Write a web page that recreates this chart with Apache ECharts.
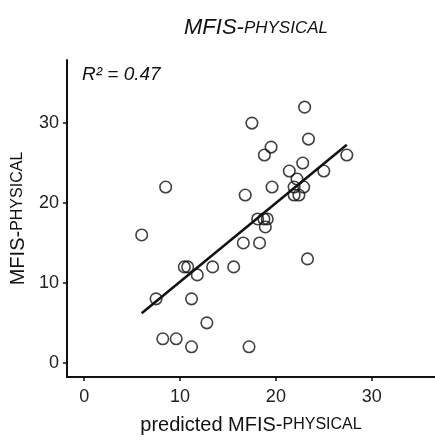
<!DOCTYPE html>
<html>
<head>
<meta charset="utf-8">
<script src="https://cdn.jsdelivr.net/npm/echarts@6/dist/echarts.min.js"></script>
<style>
html,body{margin:0;padding:0;background:#fff;}
#chart{width:435px;height:440px;}
</style>
</head>
<body>
<div id="chart"></div>
<script>
var predicted = [23.0, 17.5, 23.4, 19.5, 18.8, 27.4, 22.8, 21.4, 25.0, 22.2, 8.5, 19.6, 21.9, 22.9, 16.8, 21.9, 22.4, 18.1, 18.75, 19.1, 18.9, 6.0, 16.6, 18.3, 23.3, 10.45, 10.8, 13.4, 15.6, 11.8, 7.5, 11.2, 12.8, 8.2, 9.6, 11.2, 17.2];
var actual = [32, 30, 28, 27, 26, 26, 25, 24, 24, 23, 22, 22, 22, 22, 21, 21, 21, 18, 18, 18, 17, 16, 15, 15, 13, 12, 12, 12, 12, 11, 8, 8, 5, 3, 3, 2, 2];
var fitX = [6.0, 27.4];
var fitY = [6.2, 27.3];
var tickValues = [0, 10, 20, 30];
var r2Text = 'R² = 0.47';

var FONT = '"Liberation Sans", Arial, sans-serif';
var pts = predicted.map(function (x, i) { return [x, actual[i]]; });
var line = fitX.map(function (x, i) { return [x, fitY[i]]; });

var chart = echarts.init(document.getElementById('chart'));
chart.setOption({
  animation: false,
  backgroundColor: '#fff',
  title: {
    text: '{a|MFIS-}{b|PHYSICAL}',
    left: 251, top: 12, textAlign: 'center',
    textStyle: {
      fontWeight: 'normal',
      rich: {
        a: {fontFamily: FONT, fontStyle: 'italic', fontWeight: 'normal', fontSize: 22, color: '#111'},
        b: {fontFamily: FONT, fontStyle: 'italic', fontWeight: 'normal', fontSize: 17, color: '#111'}
      }
    }
  },
  grid: {left: 65, top: 60, right: 0, bottom: 58, containLabel: false},
  xAxis: {
    type: 'value', min: -1.8, max: 36.6,
    splitLine: {show: false},
    axisLine: {show: true, onZero: false, lineStyle: {color: '#111', width: 2}},
    axisTick: {show: true, customValues: tickValues, length: 4, lineStyle: {color: '#111', width: 1.5}},
    axisLabel: {customValues: tickValues, margin: 11, fontFamily: FONT, fontSize: 18, color: '#222'},
    name: '{a|predicted MFIS-}{b|PHYSICAL}',
    nameLocation: 'middle', nameGap: 38,
    nameTextStyle: {
      rich: {
        a: {fontFamily: FONT, fontSize: 20, color: '#111'},
        b: {fontFamily: FONT, fontSize: 16, color: '#111'}
      }
    }
  },
  yAxis: {
    type: 'value', min: -1.78, max: 37.9,
    splitLine: {show: false},
    axisLine: {show: true, onZero: false, lineStyle: {color: '#111', width: 2}},
    axisTick: {show: true, customValues: tickValues, length: 4, lineStyle: {color: '#111', width: 1.5}},
    axisLabel: {customValues: tickValues, margin: 8, fontFamily: FONT, fontSize: 18, color: '#222'},
    name: '{a|MFIS-}{b|PHYSICAL}',
    nameLocation: 'middle', nameGap: 34, nameRotate: 90,
    nameTextStyle: {
      rich: {
        a: {fontFamily: FONT, fontSize: 20, color: '#111'},
        b: {fontFamily: FONT, fontSize: 16, color: '#111'}
      }
    }
  },
  graphic: [{
    type: 'text', left: 82, top: 65,
    style: {text: r2Text, fontFamily: FONT, fontStyle: 'italic', fontSize: 19, fill: '#111'}
  }],
  series: [{
    type: 'scatter',
    data: pts,
    symbol: 'circle',
    symbolSize: 11.5,
    itemStyle: {color: 'rgba(0,0,0,0)', borderColor: '#111', borderWidth: 1.6}
  }, {
    type: 'line',
    data: line,
    showSymbol: false,
    lineStyle: {color: '#111', width: 2.5}
  }]
});
</script>
</body>
</html>
